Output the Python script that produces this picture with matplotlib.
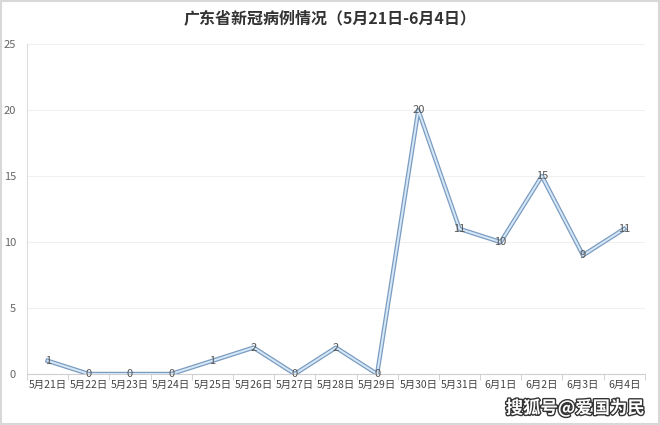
import matplotlib
matplotlib.use("Agg")
import matplotlib.pyplot as plt
import matplotlib.patheffects as pe

plt.rcParams['font.family'] = ['Noto Sans CJK SC', 'DejaVu Sans']

# data
dates = ['5月21日', '5月22日', '5月23日', '5月24日', '5月25日', '5月26日', '5月27日', '5月28日',
         '5月29日', '5月30日', '5月31日', '6月1日', '6月2日', '6月3日', '6月4日']
cases = [1, 0, 0, 0, 1, 2, 0, 2, 0, 20, 11, 10, 15, 9, 11]
yticks = [0, 5, 10, 15, 20, 25]

fig = plt.figure(figsize=(6.6, 4.25), dpi=100)
ax = fig.add_axes([0.041, 0.12, 0.936, 0.776])

x = list(range(len(dates)))
# double line look: blue-grey outline with light blue centre
ax.plot(x, cases, color='#7a9cc0', linewidth=3.2, solid_joinstyle='round', zorder=3)
ax.plot(x, cases, color='#d6e8f8', linewidth=1.4, solid_joinstyle='round', zorder=4)

for xi, v in zip(x, cases):
    ax.text(xi, v, str(v), ha='center', va='center', fontsize=8, color='#555555', zorder=5)

ax.set_xlim(-0.5, len(dates) - 0.5)
ax.set_ylim(0, 25)
ax.set_yticks(yticks)
ax.set_yticklabels([str(t) for t in yticks], fontsize=8, color='#666666')
ax.set_xticks(x)
ax.set_xticklabels(dates, fontsize=7.5, color='#444444')
ax.tick_params(axis='x', length=0, pad=4)
ax.tick_params(axis='y', length=0, pad=8)

# separators between categories
ax.set_xticks([i + 0.5 for i in range(-1, len(dates))], minor=True)
ax.tick_params(axis='x', which='minor', length=4, color='#cccccc', direction='out')

ax.grid(axis='y', color='#f0f0f0', linewidth=0.8)
ax.set_axisbelow(True)
for s in ['top', 'right']:
    ax.spines[s].set_visible(False)
ax.spines['left'].set_color('#dddddd')
ax.spines['bottom'].set_color('#d0d0d0')

fig.text(0.5, 0.957, '广东省新冠病例情况（5月21日-6月4日）', ha='center', va='center',
         fontsize=11.5, color='#333333', fontweight='bold')

fig.text(0.977, 0.04, '搜狐号@爱国为民', ha='right', va='center', fontsize=12.5,
         color='white', fontweight='bold',
         path_effects=[pe.withStroke(linewidth=2, foreground='#333333')])

# light outer frame
fig.patches.append(plt.Rectangle((0.002, 0.002), 0.996, 0.996, transform=fig.transFigure,
                                 fill=False, edgecolor='#d8d8d8', linewidth=1.5))

fig.savefig('out.png', dpi=100)
